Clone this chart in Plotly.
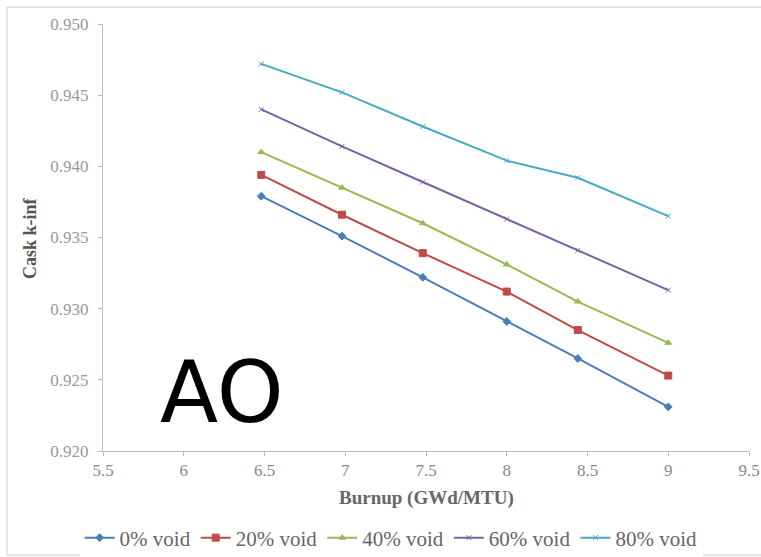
import plotly.graph_objects as go

burnup = [6.48, 6.98, 7.48, 8.0, 8.44, 9.0]
void_0 = [0.9379, 0.9351, 0.9322, 0.9291, 0.9265, 0.9231]
void_20 = [0.9394, 0.9366, 0.9339, 0.9312, 0.9285, 0.9253]
void_40 = [0.9410, 0.9385, 0.9360, 0.9331, 0.9305, 0.9276]
void_60 = [0.9440, 0.9414, 0.9389, 0.9363, 0.9341, 0.9313]
void_80 = [0.9472, 0.9452, 0.9428, 0.9404, 0.9392, 0.9365]
names = ["0% void", "20% void", "40% void", "60% void", "80% void"]
x_ticks = [5.5, 6, 6.5, 7, 7.5, 8, 8.5, 9, 9.5]
y_ticks = [0.920, 0.925, 0.930, 0.935, 0.940, 0.945, 0.950]

series = [void_0, void_20, void_40, void_60, void_80]
colors = ["#4A7EBB", "#BE4B48", "#98B954", "#7D60A0", "#46AAC5"]
symbols = ["diamond", "square", "triangle-up", "x-thin-open", "x-thin-open"]
sizes = [6, 7, 6, 5, 5]

fig = go.Figure()
for s, n, c, sym, sz in zip(series, names, colors, symbols, sizes):
    fig.add_trace(go.Scatter(
        x=burnup, y=s, name=n, mode="lines+markers",
        line=dict(color=c, width=2),
        marker=dict(symbol=sym, size=sz, color=c, line=dict(color=c, width=1)),
    ))

serif = "Liberation Serif"
fig.update_layout(
    width=761, height=557,
    margin=dict(l=103, r=12, t=24, b=106, autoexpand=False),
    paper_bgcolor="white", plot_bgcolor="white",
    font=dict(family=serif, color="#777777", size=16),
    showlegend=True,
    legend=dict(orientation="h", x=0.446, xanchor="center", y=-0.2037, yanchor="middle",
                font=dict(size=21, color="#666666", family=serif),
                itemwidth=30, tracegroupgap=0),
    xaxis=dict(range=[5.5, 9.5], tickvals=x_ticks, ticktext=[f"{v:g}" for v in x_ticks],
               showgrid=False, zeroline=False, showline=True, linecolor="#BBBBBB", linewidth=1,
               ticks="outside", ticklen=4, tickcolor="#BBBBBB", automargin=False,
               tickfont=dict(size=17, color="#888888", family=serif)),
    yaxis=dict(range=[0.920, 0.950], tickvals=y_ticks, ticktext=[f"{v:.3f}" for v in y_ticks],
               showgrid=False, zeroline=False, showline=True, linecolor="#BBBBBB", linewidth=1,
               ticks="outside", ticklen=4, tickcolor="#BBBBBB", automargin=False,
               ticklabelstandoff=6,
               tickfont=dict(size=17, color="#999999", family=serif)),
)
fig.add_annotation(text="<b>Burnup (GWd/MTU)</b>", x=0.5, xref="paper", y=-0.110, yref="paper",
                   xanchor="center", yanchor="middle", showarrow=False,
                   font=dict(family=serif, size=19, color="#666666"))
fig.add_annotation(text="<b>Cask k-inf</b>", x=-0.113, xref="paper", y=0.4988, yref="paper",
                   xanchor="center", yanchor="middle", showarrow=False, textangle=-90,
                   font=dict(family=serif, size=18, color="#555555"))
fig.add_annotation(text="AO", x=0.1842, xref="paper", y=0.92414, yref="y",
                   xanchor="center", yanchor="middle", showarrow=False,
                   font=dict(family="DejaVu Sans", size=85, color="black"))
fig.add_shape(type="rect", xref="paper", yref="paper",
              x0=-0.1486, x1=1.1, y0=-0.2436, y1=1.0398,
              line=dict(color="#CCCCCC", width=1))
fig.write_html("out.html", config={"displayModeBar": False},
               post_script="document.body.style.margin='0';document.body.style.overflow='hidden';")
